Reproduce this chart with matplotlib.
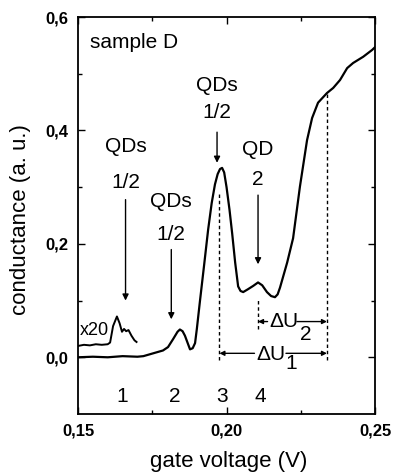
import matplotlib
matplotlib.use("Agg")
import matplotlib.pyplot as plt
import numpy as np

plt.rcParams['font.family'] = ['Liberation Sans', 'DejaVu Sans']

# main conductance trace
vg = [0.150, 0.155, 0.160, 0.165, 0.170, 0.172, 0.1753, 0.1786, 0.1803, 0.182,
      0.1835, 0.1843, 0.1852, 0.186, 0.1877, 0.1886, 0.1894, 0.190, 0.191, 0.1925,
      0.1938, 0.1950, 0.1961, 0.1970, 0.1978, 0.1985, 0.1992, 0.2000, 0.2010, 0.2019,
      0.2029, 0.2039, 0.2047, 0.2056, 0.2072, 0.2090, 0.2106, 0.2120, 0.2136, 0.2150,
      0.2163, 0.2172, 0.218, 0.2204, 0.2224, 0.2247, 0.2271, 0.2288, 0.2308, 0.2338,
      0.2359, 0.2382, 0.2406, 0.2426, 0.246, 0.249, 0.250]
g = [0.000, 0.001, 0.000, 0.002, 0.001, 0.002, 0.007, 0.012, 0.018, 0.032,
     0.045, 0.049, 0.046, 0.038, 0.014, 0.016, 0.025, 0.050, 0.097, 0.165,
     0.225, 0.272, 0.305, 0.323, 0.332, 0.334, 0.326, 0.300, 0.260, 0.218,
     0.167, 0.125, 0.117, 0.115, 0.120, 0.126, 0.132, 0.127, 0.115, 0.108,
     0.106, 0.111, 0.123, 0.167, 0.210, 0.301, 0.383, 0.422, 0.449, 0.466,
     0.475, 0.489, 0.510, 0.519, 0.530, 0.542, 0.547]

# x20 magnified trace
vg20 = [0.150, 0.152, 0.154, 0.156, 0.158, 0.160, 0.1608, 0.1618, 0.1631, 0.1640,
        0.1648, 0.1655, 0.1662, 0.1670, 0.1680, 0.1690, 0.1697]
g20 = [0.020, 0.022, 0.021, 0.023, 0.022, 0.023, 0.026, 0.055, 0.072, 0.060,
       0.045, 0.050, 0.046, 0.048, 0.038, 0.030, 0.027]

# arrow labels
labels_top = ["QDs", "QDs", "QDs", "QD"]
labels_bot = ["1/2", "1/2", "1/2", "2"]
lab_x = [0.1660, 0.1814, 0.1968, 0.2106]
lab_y_top = [0.371, 0.274, 0.480, 0.366]
lab_y_bot = [0.308, 0.216, 0.431, 0.313]
tip_y = [0.100, 0.067, 0.343, 0.164]
start_y = [0.278, 0.190, 0.397, 0.286]

peak_nums = ["1", "2", "3", "4"]
peak_x = [0.1648, 0.1827, 0.1985, 0.2113]
peak_y = -0.070

# dashed markers
dash_x = [0.1976, 0.2106, 0.2338]
dash_top = [0.290, 0.105, 0.466]
dash_bot = [-0.005, 0.050, -0.005]

fig = plt.figure(figsize=(3.94, 4.74), dpi=100)
ax = fig.add_axes([0.198, 0.1266, 0.754, 0.8374])

ax.plot(vg, g, color='black', lw=1.6, solid_joinstyle='round')
ax.plot(vg20, g20, color='black', lw=1.4, solid_joinstyle='round')

for xd, yt, yb in zip(dash_x, dash_top, dash_bot):
    ax.plot([xd, xd], [yb, yt], color='black', lw=1.0, ls=(0, (2.5, 2)))

for t1, t2, x, yt, yb, ty, sy in zip(labels_top, labels_bot, lab_x, lab_y_top, lab_y_bot, tip_y, start_y):
    ax.text(x, yt, t1, ha='center', va='center', fontsize=15)
    ax.text(x, yb, t2, ha='center', va='center', fontsize=15)
    ax.annotate('', xy=(x, ty), xytext=(x, sy),
                arrowprops=dict(arrowstyle='-|>', color='black', lw=1.0,
                                mutation_scale=9, shrinkA=0, shrinkB=0))

for n, x in zip(peak_nums, peak_x):
    ax.text(x, peak_y, n, ha='center', va='center', fontsize=15)

# Delta U arrows
def seg(x0, x1, y):
    ax.annotate('', xy=(x1, y), xytext=(x0, y),
                arrowprops=dict(arrowstyle='-|>', color='black', lw=1.0,
                                mutation_scale=7, shrinkA=0, shrinkB=0))

du2_y = 0.063
seg(0.2138, 0.2106, du2_y)
seg(0.2237, 0.2338, du2_y)
ax.text(0.2194, 0.0624, '\u0394U', ha='center', va='center', fontsize=15)
ax.text(0.2268, 0.040, '2', ha='center', va='center', fontsize=15)

du1_y = 0.007
seg(0.2094, 0.1976, du1_y)
seg(0.2200, 0.2338, du1_y)
ax.text(0.2150, 0.0044, '\u0394U', ha='center', va='center', fontsize=15)
ax.text(0.2216, -0.0106, '1', ha='center', va='center', fontsize=15)

ax.text(0.1507, 0.047, 'x20', ha='left', va='center', fontsize=13)
ax.text(0.1540, 0.556, 'sample D', ha='left', va='center', fontsize=15)

ax.set_xlim(0.15, 0.25)
ax.set_ylim(-0.1, 0.6)
ax.set_xticks([0.15, 0.20, 0.25])
ax.set_xticks([0.175, 0.225], minor=True)
ax.set_yticks([0.0, 0.2, 0.4, 0.6])
ax.set_yticks([0.1, 0.3, 0.5], minor=True)
ax.set_xticklabels(['0,15', '0,20', '0,25'], fontweight='bold', fontsize=12)
ax.set_yticklabels(['0,0', '0,2', '0,4', '0,6'], fontweight='bold', fontsize=12)
ax.tick_params(which='both', direction='in', top=True, right=True, width=1.0)
ax.tick_params(which='major', length=5, pad=7)
ax.tick_params(which='minor', length=3)
for s in ax.spines.values():
    s.set_linewidth(1.3)

ax.set_xlabel('gate voltage (V)', fontsize=16, va='bottom')
ax.xaxis.set_label_coords(0.508, -0.146)
ax.set_ylabel('conductance (a. u.)', fontsize=16, va='center')
ax.yaxis.set_label_coords(-0.192, 0.49)

fig.savefig('out.png', dpi=100)
